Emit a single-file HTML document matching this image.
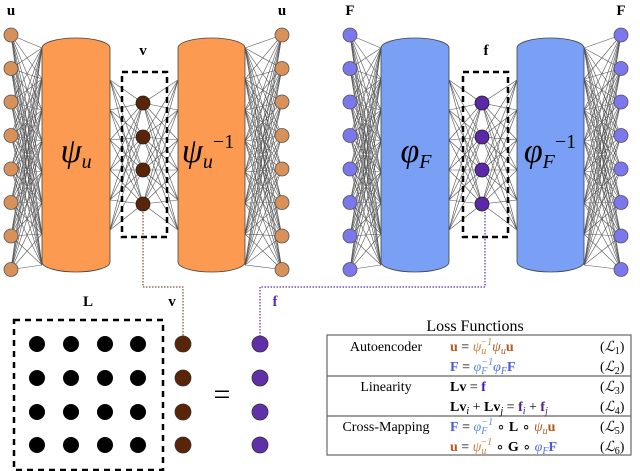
<!DOCTYPE html>
<html><head><meta charset="utf-8"><style>
body{margin:0;background:#fff;}
svg{display:block;font-family:"Liberation Serif",serif;}
</style></head><body>
<svg id="s" width="640" height="471" viewBox="0 0 640 471" xmlns="http://www.w3.org/2000/svg">
<g id="lines" stroke="#555" stroke-width="0.6"></g>
<g id="shapes"></g>
<rect x="122" y="72" width="45" height="165" fill="none" stroke="#000" stroke-width="2.5" stroke-dasharray="6,4"/>
<rect x="463" y="72" width="45" height="165" fill="none" stroke="#000" stroke-width="2.5" stroke-dasharray="6,4"/>
<rect x="14" y="320" width="149" height="150" fill="none" stroke="#000" stroke-width="2.5" stroke-dasharray="6,5"/>
<polyline points="143,212 143,287 183,287 183,336" fill="none" stroke="#5a2a10" stroke-width="1" stroke-dasharray="1.5,1.5"/>
<polyline points="485,212 485,287 260,287 260,336" fill="none" stroke="#5a30a8" stroke-width="1.2" stroke-dasharray="1.5,1.5"/>
<g font-weight="bold" font-size="15">
<text x="11" y="15" text-anchor="middle">u</text>
<text x="282" y="15" text-anchor="middle">u</text>
<text x="143" y="55" text-anchor="middle">v</text>
<text x="350" y="15" text-anchor="middle">F</text>
<text x="621" y="15" text-anchor="middle">F</text>
<text x="486" y="55" text-anchor="middle">f</text>
<text x="88" y="306" text-anchor="middle">L</text>
<text x="172" y="306" text-anchor="middle">v</text>
<text x="275" y="306" text-anchor="middle" fill="#5a30a8">f</text>
</g>
<g font-size="34" font-style="italic">
<text x="76" y="162" text-anchor="middle">ψ<tspan font-size="20" dy="6">u</tspan></text>
<text x="208" y="162" text-anchor="middle">ψ<tspan font-size="20" dy="6">u</tspan><tspan font-size="20" dy="-20" font-style="normal">−1</tspan></text>
<text x="416" y="162" text-anchor="middle">φ<tspan font-size="20" dy="6">F</tspan></text>
<text x="550" y="162" text-anchor="middle">φ<tspan font-size="20" dy="6">F</tspan><tspan font-size="20" dy="-20" font-style="normal">−1</tspan></text>
</g>
<text x="222" y="404" text-anchor="middle" font-size="30">=</text>
<text x="475" y="331" text-anchor="middle" font-size="16">Loss Functions</text>
<g stroke="#666" stroke-width="1.2" fill="none">
<rect x="327" y="335" width="304" height="120"/>
<line x1="327" y1="376" x2="631" y2="376"/>
<line x1="327" y1="416" x2="631" y2="416"/>
</g>
<g font-size="14">
<text x="386" y="351" text-anchor="middle">Autoencoder</text>
<text x="386" y="391" text-anchor="middle">Linearity</text>
<text x="386" y="431" text-anchor="middle">Cross-Mapping</text>
<text x="450" y="351"><tspan fill="#b05a20" font-weight="bold">u</tspan> = <tspan fill="#d87a3a" font-style="italic">ψ<tspan font-size="10" dy="3">u</tspan><tspan font-size="10" dy="-9" dx="-6">−1</tspan></tspan><tspan dy="6" fill="#b05a20" font-style="italic">ψ<tspan font-size="10" dy="3">u</tspan></tspan><tspan dy="-3" fill="#b05a20" font-weight="bold">u</tspan></text>
<text x="450" y="371"><tspan fill="#4a5ad8" font-weight="bold">F</tspan> = <tspan fill="#5a8ae0" font-style="italic">φ<tspan font-size="10" dy="3">F</tspan><tspan font-size="10" dy="-9" dx="-6">−1</tspan></tspan><tspan dy="6" fill="#4a70d8" font-style="italic">φ<tspan font-size="10" dy="3">F</tspan></tspan><tspan dy="-3" fill="#4a5ad8" font-weight="bold">F</tspan></text>
<text x="450" y="391"><tspan font-weight="bold">Lv</tspan> = <tspan fill="#4a2090" font-weight="bold">f</tspan></text>
<text x="450" y="411"><tspan font-weight="bold">Lv</tspan><tspan font-size="10" dy="3" font-style="italic">i</tspan><tspan dy="-3"> + </tspan><tspan font-weight="bold">Lv</tspan><tspan font-size="10" dy="3" font-style="italic">j</tspan><tspan dy="-3"> = </tspan><tspan fill="#4a2090" font-weight="bold">f</tspan><tspan fill="#4a2090" font-size="10" dy="3" font-style="italic">i</tspan><tspan dy="-3"> + </tspan><tspan fill="#4a2090" font-weight="bold">f</tspan><tspan fill="#4a2090" font-size="10" dy="3" font-style="italic">j</tspan></text>
<text x="450" y="431"><tspan fill="#4a5ad8" font-weight="bold">F</tspan> = <tspan fill="#5a8ae0" font-style="italic">φ<tspan font-size="10" dy="3">F</tspan><tspan font-size="10" dy="-9" dx="-6">−1</tspan></tspan><tspan dy="6"> ∘ </tspan><tspan font-weight="bold">L</tspan> ∘ <tspan fill="#b05a20" font-style="italic">ψ<tspan font-size="10" dy="3">u</tspan></tspan><tspan dy="-3" fill="#b05a20" font-weight="bold">u</tspan></text>
<text x="450" y="451"><tspan fill="#b05a20" font-weight="bold">u</tspan> = <tspan fill="#d87a3a" font-style="italic">ψ<tspan font-size="10" dy="3">u</tspan><tspan font-size="10" dy="-9" dx="-6">−1</tspan></tspan><tspan dy="6"> ∘ </tspan><tspan font-weight="bold">G</tspan> ∘ <tspan fill="#4a70d8" font-style="italic">φ<tspan font-size="10" dy="3">F</tspan></tspan><tspan dy="-3" fill="#4a5ad8" font-weight="bold">F</tspan></text>
<text x="600" y="351">(<tspan font-style="italic">ℒ</tspan><tspan font-size="10" dy="3">1</tspan><tspan dy="-3">)</tspan></text>
<text x="600" y="371">(<tspan font-style="italic">ℒ</tspan><tspan font-size="10" dy="3">2</tspan><tspan dy="-3">)</tspan></text>
<text x="600" y="391">(<tspan font-style="italic">ℒ</tspan><tspan font-size="10" dy="3">3</tspan><tspan dy="-3">)</tspan></text>
<text x="600" y="411">(<tspan font-style="italic">ℒ</tspan><tspan font-size="10" dy="3">4</tspan><tspan dy="-3">)</tspan></text>
<text x="600" y="431">(<tspan font-style="italic">ℒ</tspan><tspan font-size="10" dy="3">5</tspan><tspan dy="-3">)</tspan></text>
<text x="600" y="451">(<tspan font-style="italic">ℒ</tspan><tspan font-size="10" dy="3">6</tspan><tspan dy="-3">)</tspan></text>
</g>
</svg>
<script>
var NS="http://www.w3.org/2000/svg";
var L=document.getElementById("lines"),S=document.getElementById("shapes");
function el(p,t,a){var e=document.createElementNS(NS,t);for(var k in a)e.setAttribute(k,a[k]);p.appendChild(e);return e;}
function ln(x1,y1,x2,y2){el(L,"line",{x1:x1,y1:y1,x2:x2,y2:y2});}
var ins=[];for(var i=0;i<8;i++)ins.push(35+i*33.5);
var edge=[];for(var i=0;i<8;i++)edge.push(48+i*31);
var mid=[];for(var i=0;i<6;i++)mid.push(80+i*30);
var vy=[103,137,170,204];
function net(off,inC,midC,cyl1){
 var xin=11+off,xout=282+off,c1l=42+off,c1r=110+off,c2l=178+off,c2r=245+off,xm=143+off;
 ins.forEach(function(a){edge.forEach(function(b){ln(xin,a,c1l,b);ln(xout,a,c2r,b);});});
 vy.forEach(function(a){mid.forEach(function(b){ln(c1r,b,xm,a);ln(c2l,b,xm,a);});});
 [[c1l,c1r],[c2l,c2r]].forEach(function(c){
  var w=c[1]-c[0];
  el(S,"path",{d:"M"+c[0]+",48 A"+(w/2)+",10 0 0 1 "+c[1]+",48 L"+c[1]+",262 A"+(w/2)+",10 0 0 1 "+c[0]+",262 Z",fill:cyl1,stroke:"#444","stroke-width":0.8});
 });
 ins.forEach(function(a){el(S,"circle",{cx:xin,cy:a,r:7,fill:inC,stroke:"#555","stroke-width":0.8});el(S,"circle",{cx:xout,cy:a,r:7,fill:inC,stroke:"#555","stroke-width":0.8});});
 vy.forEach(function(a){el(S,"circle",{cx:xm,cy:a,r:7,fill:midC,stroke:"#222","stroke-width":0.8});});
}
net(0,"#d9915a","#5a2408","#fd9a52");
net(339,"#7b78ee","#5a28a8","#7aa0f5");
[344,378,412,445].forEach(function(y){
 [37,71,105,138].forEach(function(x){el(S,"circle",{cx:x,cy:y,r:8,fill:"#000"});});
 el(S,"circle",{cx:183,cy:y,r:8,fill:"#5a2408",stroke:"#333","stroke-width":0.8});
 el(S,"circle",{cx:260,cy:y,r:8,fill:"#6030a8",stroke:"#333","stroke-width":0.8});
});
</script>
</body></html>
